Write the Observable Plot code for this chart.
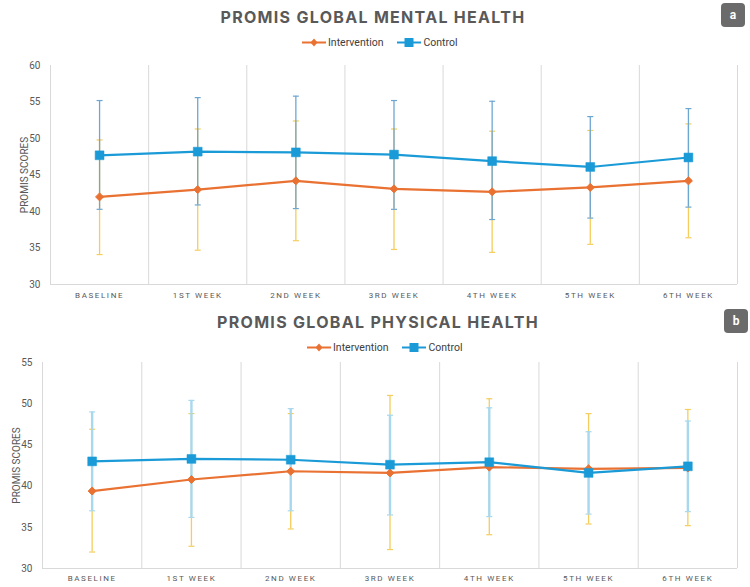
<!DOCTYPE html>
<html>
<head>
<meta charset="utf-8">
<script src="https://cdn.jsdelivr.net/npm/d3@7"></script>
<script src="https://cdn.jsdelivr.net/npm/@observablehq/plot@0.6"></script>
<style>
  html, body { margin: 0; padding: 0; background: #fff; }
  #root { position: relative; width: 750px; height: 587px; overflow: hidden; font-family: "Inter", "Roboto", sans-serif; }
  .title { position: absolute; transform: translate(-50%, -50%); font-family: "Inter", "Open Sans", sans-serif; font-weight: 700; font-size: 16px; letter-spacing: 1.3px; color: #595959; white-space: nowrap; }
  .badge { position: absolute; width: 24px; height: 24px; border-radius: 4px; background: #6b6b6b; color: #fff; font-family: "Roboto", sans-serif; font-weight: 700; font-size: 12px; line-height: 24px; text-align: center; }
  .legend { position: absolute; display: flex; align-items: center; font-family: "Roboto", sans-serif; font-size: 10.5px; color: #404040; white-space: nowrap; }
  .legend span { margin-right: 14px; }
  .legend svg { margin-right: 2px; }
  .panel { position: absolute; left: 0; }
  .panel [aria-label="x-axis tick label"] text { letter-spacing: 1.6px; }
</style>
</head>
<body>
<div id="root"></div>
<script>
// ---- data ----
const categories = ["BASELINE", "1ST WEEK", "2ND WEEK", "3RD WEEK", "4TH WEEK", "5TH WEEK", "6TH WEEK"];
const seriesNames = ["Intervention", "Control"];

const mentalIntervention   = [42.0, 43.0, 44.2, 43.1, 42.7, 43.3, 44.2];
const mentalInterventionHi = [49.8, 51.3, 52.4, 51.3, 51.0, 51.1, 52.0];
const mentalInterventionLo = [34.1, 34.7, 36.0, 34.8, 34.4, 35.5, 36.4];
const mentalControl        = [47.7, 48.2, 48.1, 47.8, 46.9, 46.1, 47.4];
const mentalControlHi      = [55.2, 55.6, 55.8, 55.2, 55.1, 53.0, 54.1];
const mentalControlLo      = [40.3, 40.9, 40.4, 40.3, 38.9, 39.1, 40.6];
const mentalTicks = [30, 35, 40, 45, 50, 55, 60];

const physIntervention   = [39.4, 40.8, 41.8, 41.6, 42.3, 42.1, 42.2];
const physInterventionHi = [46.9, 48.8, 48.8, 51.0, 50.6, 48.8, 49.3];
const physInterventionLo = [32.0, 32.7, 34.8, 32.3, 34.1, 35.4, 35.2];
const physControl        = [43.0, 43.3, 43.2, 42.6, 42.9, 41.6, 42.4];
const physControlHi      = [49.0, 50.4, 49.4, 48.6, 49.5, 46.6, 47.9];
const physControlLo      = [37.0, 36.2, 37.0, 36.5, 36.3, 36.6, 36.9];
const physTicks = [30, 35, 40, 45, 50, 55];

// ---- colours ----
const ORANGE = "#E97132";
const BLUE = "#1A9BD7";
const YELLOW = "#F4CD5C";

const capSymbol = {
  draw(ctx, size) {
    const r = Math.sqrt(size / Math.PI);
    ctx.moveTo(-r, 0);
    ctx.lineTo(r, 0);
  }
};

function rows(mean, hi, lo) {
  return categories.map((c, i) => ({ i: i + 0.5, cat: c, v: mean[i], hi: hi[i], lo: lo[i] }));
}

function panel(cfg) {
  const inter = rows(cfg.inter, cfg.interHi, cfg.interLo);
  const ctrl = rows(cfg.ctrl, cfg.ctrlHi, cfg.ctrlLo);
  const ymin = cfg.ticks[0], ymax = cfg.ticks[cfg.ticks.length - 1];
  return Plot.plot({
    width: 750,
    height: cfg.height,
    marginTop: cfg.mt,
    marginBottom: cfg.mb,
    marginLeft: cfg.ml,
    marginRight: 13,
    style: { color: "#595959", fontFamily: "Roboto, sans-serif", background: "transparent" },
    x: { domain: [0, categories.length] },
    y: { domain: [ymin, ymax] },
    marks: [
      Plot.ruleX(d3.range(categories.length + 1), { stroke: "#d9d9d9", strokeWidth: 1 }),
      Plot.ruleY([ymin], { stroke: "#d9d9d9", strokeWidth: 1 }),
      Plot.axisY({ ticks: cfg.ticks, tickSize: 0, tickPadding: 10, fontSize: 10,
                   label: "PROMIS SCORES", labelAnchor: "center", labelArrow: "none", labelOffset: cfg.labelOffset }),
      Plot.axisX({ ticks: categories.map((c, i) => i + 0.5), tickFormat: d => categories[Math.floor(d)],
                   tickSize: 0, tickPadding: cfg.xpad, fontSize: 8, label: null }),
      // intervention error bars
      Plot.ruleX(inter, { x: "i", y1: "lo", y2: "hi", stroke: YELLOW, strokeWidth: 1.3 }),
      Plot.dot(inter, { x: "i", y: "hi", symbol: capSymbol, r: 3, stroke: YELLOW, strokeWidth: 1.2 }),
      Plot.dot(inter, { x: "i", y: "lo", symbol: capSymbol, r: 3, stroke: YELLOW, strokeWidth: 1.2 }),
      // control error bars
      Plot.ruleX(ctrl, { x: "i", y1: "lo", y2: "hi", stroke: cfg.ctrlBar, strokeWidth: cfg.barW }),
      Plot.dot(ctrl, { x: "i", y: "hi", symbol: capSymbol, r: 3, stroke: cfg.ctrlBar, strokeWidth: 1.2 }),
      Plot.dot(ctrl, { x: "i", y: "lo", symbol: capSymbol, r: 3, stroke: cfg.ctrlBar, strokeWidth: 1.2 }),
      // lines
      Plot.line(inter, { x: "i", y: "v", stroke: ORANGE, strokeWidth: 2.2 }),
      Plot.dot(inter, { x: "i", y: "v", symbol: "diamond2", r: 3.6, fill: ORANGE, stroke: ORANGE, strokeWidth: 1 }),
      Plot.line(ctrl, { x: "i", y: "v", stroke: BLUE, strokeWidth: 2.2 }),
      Plot.dot(ctrl, { x: "i", y: "v", symbol: "square", r: 5, fill: BLUE, stroke: BLUE, strokeWidth: 0.5 })
    ]
  });
}

function legendItem(name, color, sym) {
  const marker = sym === "square"
    ? `<rect x="7.5" y="2" width="9" height="9" fill="${color}"/>`
    : `<path d="M12 2.5 L15.5 6.5 L12 10.5 L8.5 6.5 Z" fill="${color}"/>`;
  return `<svg width="24" height="13"><line x1="0" y1="6.5" x2="24" y2="6.5" stroke="${color}" stroke-width="2"/>${marker}</svg><span>${name}</span>`;
}

const root = document.getElementById("root");
function addDiv(cls, html, style) {
  const d = document.createElement("div");
  d.className = cls;
  d.innerHTML = html;
  Object.assign(d.style, style);
  root.appendChild(d);
  return d;
}

// Panel a
addDiv("title", "PROMIS GLOBAL MENTAL HEALTH", { left: "373px", top: "17px" });
addDiv("badge", "a", { left: "721px", top: "3px" });
addDiv("legend", legendItem(seriesNames[0], ORANGE, "diamond") + legendItem(seriesNames[1], BLUE, "square"), { left: "302px", top: "36px" });
const pa = addDiv("panel", "", { top: "55px" });
pa.appendChild(panel({
  inter: mentalIntervention, interHi: mentalInterventionHi, interLo: mentalInterventionLo,
  ctrl: mentalControl, ctrlHi: mentalControlHi, ctrlLo: mentalControlLo,
  ticks: mentalTicks, height: 250, mt: 10, mb: 21, ml: 50, labelOffset: 30, xpad: 8,
  ctrlBar: "#6EA6D2", barW: 1.3
}));

// Panel b
addDiv("title", "PROMIS GLOBAL PHYSICAL HEALTH", { left: "378px", top: "322px" });
addDiv("badge", "b", { left: "724px", top: "309px" });
addDiv("legend", legendItem(seriesNames[0], ORANGE, "diamond") + legendItem(seriesNames[1], BLUE, "square"), { left: "307px", top: "341px" });
const pb = addDiv("panel", "", { top: "352px" });
pb.appendChild(panel({
  inter: physIntervention, interHi: physInterventionHi, interLo: physInterventionLo,
  ctrl: physControl, ctrlHi: physControlHi, ctrlLo: physControlLo,
  ticks: physTicks, height: 235, mt: 10, mb: 19, ml: 42, labelOffset: 30, xpad: 7,
  ctrlBar: "#A8D8EE", barW: 2.4
}));
</script>
</body>
</html>
